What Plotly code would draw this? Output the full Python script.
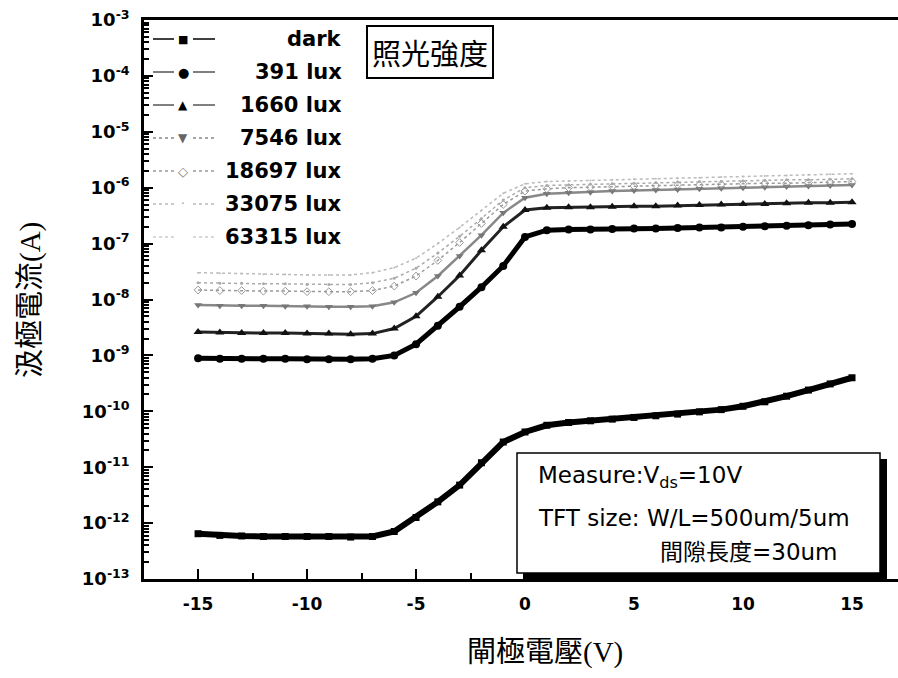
import plotly.graph_objects as go

# Gate voltage (V)
vg = [-15, -14, -13, -12, -11, -10, -9, -8, -7, -6, -5, -4, -3, -2, -1, 0,
      1, 2, 3, 4, 5, 6, 7, 8, 9, 10, 11, 12, 13, 14, 15]

# log10 of drain current (A)
log_dark = [-12.19, -12.22, -12.23, -12.24, -12.24, -12.24, -12.24, -12.25, -12.24, -12.15,
            -11.90, -11.62, -11.32, -10.92, -10.55, -10.37, -10.25, -10.20, -10.17, -10.14,
            -10.11, -10.08, -10.05, -10.01, -9.97, -9.91, -9.83, -9.73, -9.62, -9.51, -9.40]
log_391 = [-9.05, -9.06, -9.06, -9.06, -9.06, -9.07, -9.07, -9.07, -9.06, -9.00,
           -8.80, -8.47, -8.13, -7.78, -7.40, -6.88, -6.76, -6.75, -6.75, -6.74,
           -6.73, -6.73, -6.72, -6.71, -6.71, -6.70, -6.69, -6.68, -6.67, -6.66, -6.65]
log_1660 = [-8.58, -8.59, -8.60, -8.60, -8.60, -8.61, -8.61, -8.62, -8.61, -8.52,
            -8.30, -7.95, -7.57, -7.12, -6.70, -6.40, -6.36, -6.35, -6.35, -6.34,
            -6.33, -6.33, -6.32, -6.31, -6.30, -6.29, -6.29, -6.28, -6.27, -6.27, -6.26]
log_7546 = [-8.10, -8.11, -8.11, -8.11, -8.12, -8.12, -8.13, -8.13, -8.12, -8.05,
            -7.88, -7.58, -7.22, -6.85, -6.45, -6.18, -6.11, -6.09, -6.08, -6.06,
            -6.05, -6.04, -6.03, -6.02, -6.01, -6.00, -5.99, -5.98, -5.97, -5.96, -5.95]
log_18697 = [-7.83, -7.84, -7.84, -7.85, -7.85, -7.86, -7.86, -7.86, -7.84, -7.76,
             -7.58, -7.30, -6.98, -6.64, -6.30, -6.06, -6.02, -6.00, -5.99, -5.98,
             -5.97, -5.96, -5.95, -5.95, -5.94, -5.93, -5.92, -5.92, -5.91, -5.90, -5.89]
log_33075 = [-7.70, -7.71, -7.71, -7.72, -7.72, -7.73, -7.73, -7.73, -7.70, -7.62,
             -7.44, -7.17, -6.87, -6.55, -6.22, -6.00, -5.96, -5.95, -5.94, -5.93,
             -5.92, -5.91, -5.90, -5.89, -5.89, -5.88, -5.87, -5.86, -5.86, -5.85, -5.84]
log_63315 = [-7.52, -7.53, -7.54, -7.55, -7.55, -7.56, -7.56, -7.56, -7.52, -7.43,
             -7.26, -7.00, -6.71, -6.41, -6.10, -5.93, -5.89, -5.88, -5.87, -5.86,
             -5.85, -5.84, -5.83, -5.82, -5.81, -5.80, -5.79, -5.78, -5.77, -5.76, -5.75]

series_names = ["dark", "391 lux", "1660 lux", "7546 lux", "18697 lux", "33075 lux", "63315 lux"]
series_logs = [log_dark, log_391, log_1660, log_7546, log_18697, log_33075, log_63315]

y_exps = [-13, -12, -11, -10, -9, -8, -7, -6, -5, -4, -3]
x_ticks = [-15, -10, -5, 0, 5, 10, 15]

styles = [
    dict(line=dict(color="black", width=6), marker=dict(symbol="square", size=7, color="black")),
    dict(line=dict(color="black", width=5), marker=dict(symbol="circle", size=8, color="black")),
    dict(line=dict(color="#222", width=3), marker=dict(symbol="triangle-up", size=8, color="#111")),
    dict(line=dict(color="#888", width=2.5), marker=dict(symbol="triangle-down", size=7, color="#777")),
    dict(line=dict(color="#999", width=1.5, dash="dot"), marker=dict(symbol="diamond-open", size=6, color="#999")),
    dict(line=dict(color="#aaa", width=1.5, dash="dot"), marker=dict(symbol="circle", size=3, color="#aaa")),
    dict(line=dict(color="#bbb", width=1.5, dash="dot"), marker=dict(symbol="circle", size=2, color="#bbb")),
]

fig = go.Figure()
for name, lg, st in zip(series_names, series_logs, styles):
    fig.add_trace(go.Scatter(x=vg, y=[10 ** v for v in lg], mode="lines+markers",
                             name=name, showlegend=False, **st))

W, H = 898, 678
L, R, T, B = 144, 0, 20, 99
pw, ph = W - L - R, H - T - B

def px(xp):
    return (xp - L) / pw

def py(yp):
    return (H - B - yp) / ph

minor_y = [k * 10.0 ** n for n in range(-13, -3) for k in range(2, 10)]

fig.update_layout(
    width=W, height=H, margin=dict(l=L, r=R, t=T, b=B),
    paper_bgcolor="white", plot_bgcolor="white",
    xaxis=dict(range=[-17.48, 17.11], showgrid=False, zeroline=False,
               showline=True, linecolor="black", linewidth=2.5, mirror=True,
               ticks="inside", ticklen=10, tickwidth=2, tickcolor="black",
               tickvals=x_ticks, ticktext=[str(v) for v in x_ticks],
               ticklabelstandoff=8,
               tickfont=dict(family="DejaVu Sans", size=17, color="black", weight="bold"),
               minor=dict(tickvals=[-12.5, -7.5, -2.5, 2.5, 7.5, 12.5], ticks="inside",
                          ticklen=6, tickwidth=1.5, tickcolor="black", showgrid=False)),
    yaxis=dict(type="log", range=[-13, -3], showgrid=False, zeroline=False,
               showline=True, linecolor="black", linewidth=2.5, mirror=False,
               ticks="inside", ticklen=9, tickwidth=2, tickcolor="black",
               tickvals=[10.0 ** e for e in y_exps],
               ticktext=["10<sup>%d</sup>" % e for e in y_exps],
               ticklabelstandoff=8,
               tickfont=dict(family="DejaVu Sans", size=18, color="black", weight="bold"),
               minor=dict(tickvals=minor_y, ticks="inside", ticklen=5, tickwidth=1.5,
                          tickcolor="black", showgrid=False)),
)

shapes = []
annotations = []

# Custom legend
legend_rows_y = [39, 72, 105, 138, 171, 204, 237]
legend_syms = ["■", "●", "▲", "▼", "◇", "·", ""]
legend_line_cols = ["black", "#555", "#555", "#888", "#999", "#bbb", "#ccc"]
legend_sym_cols = ["black", "black", "black", "#666", "#777", "#999", "#bbb"]
legend_sym_sizes = [11, 13, 12, 12, 13, 12, 10]
for i, (name, yr) in enumerate(zip(series_names, legend_rows_y)):
    dash = "solid" if i < 3 else "dot"
    shapes.append(dict(type="line", xref="paper", yref="paper", x0=px(153), x1=px(174),
                       y0=py(yr), y1=py(yr), line=dict(color=legend_line_cols[i], width=1.5, dash=dash)))
    shapes.append(dict(type="line", xref="paper", yref="paper", x0=px(193), x1=px(215),
                       y0=py(yr), y1=py(yr), line=dict(color=legend_line_cols[i], width=1.5, dash=dash)))
    if legend_syms[i]:
        annotations.append(dict(xref="paper", yref="paper", x=px(183), y=py(yr), text=legend_syms[i],
                                showarrow=False, xanchor="center", yanchor="middle",
                                font=dict(family="DejaVu Sans", size=legend_sym_sizes[i], color=legend_sym_cols[i])))
    annotations.append(dict(xref="paper", yref="paper", x=px(344), y=py(yr), text=name,
                            showarrow=False, xanchor="right", yanchor="middle",
                            font=dict(family="DejaVu Sans", size=21, color="black", weight="bold")))

# 照光強度 box
annotations.append(dict(xref="paper", yref="paper", x=px(430), y=py(52), text="照光強度",
                        showarrow=False, xanchor="center", yanchor="middle",
                        bordercolor="black", borderwidth=2, borderpad=4, bgcolor="white",
                        font=dict(family="Noto Sans CJK TC", size=29, color="black")))

# Measurement box with shadow
shapes.append(dict(type="rect", xref="paper", yref="paper", x0=px(523), x1=px(887),
                   y0=py(579), y1=py(459), fillcolor="black", line=dict(width=0)))
shapes.append(dict(type="rect", xref="paper", yref="paper", x0=px(517), x1=px(880),
                   y0=py(573), y1=py(453), fillcolor="white", line=dict(color="black", width=1.5)))
box_font = dict(family="DejaVu Sans, Noto Sans CJK TC", size=23, color="black")
annotations.append(dict(xref="paper", yref="paper", x=px(536), y=py(477),
                        text="Measure:V<sub>ds</sub>=10V", showarrow=False,
                        xanchor="left", yanchor="middle", font=box_font))
annotations.append(dict(xref="paper", yref="paper", x=px(536), y=py(518),
                        text="TFT size: W/L=500um/5um", showarrow=False,
                        xanchor="left", yanchor="middle", font=box_font))
annotations.append(dict(xref="paper", yref="paper", x=px(658), y=py(552),
                        text="間隙長度=30um", showarrow=False,
                        xanchor="left", yanchor="middle", font=box_font))

# Axis titles
title_font = dict(family="Liberation Serif, Noto Sans CJK TC", size=29, color="black")
annotations.append(dict(xref="paper", yref="paper", x=px(545), y=py(652), text="閘極電壓(V)",
                        showarrow=False, xanchor="center", yanchor="middle", font=title_font))
annotations.append(dict(xref="paper", yref="paper", x=px(30), y=py(300), text="汲極電流(A)",
                        showarrow=False, xanchor="center", yanchor="middle", textangle=-90,
                        font=title_font))

fig.update_layout(shapes=shapes, annotations=annotations)
fig.write_html("out.html")
